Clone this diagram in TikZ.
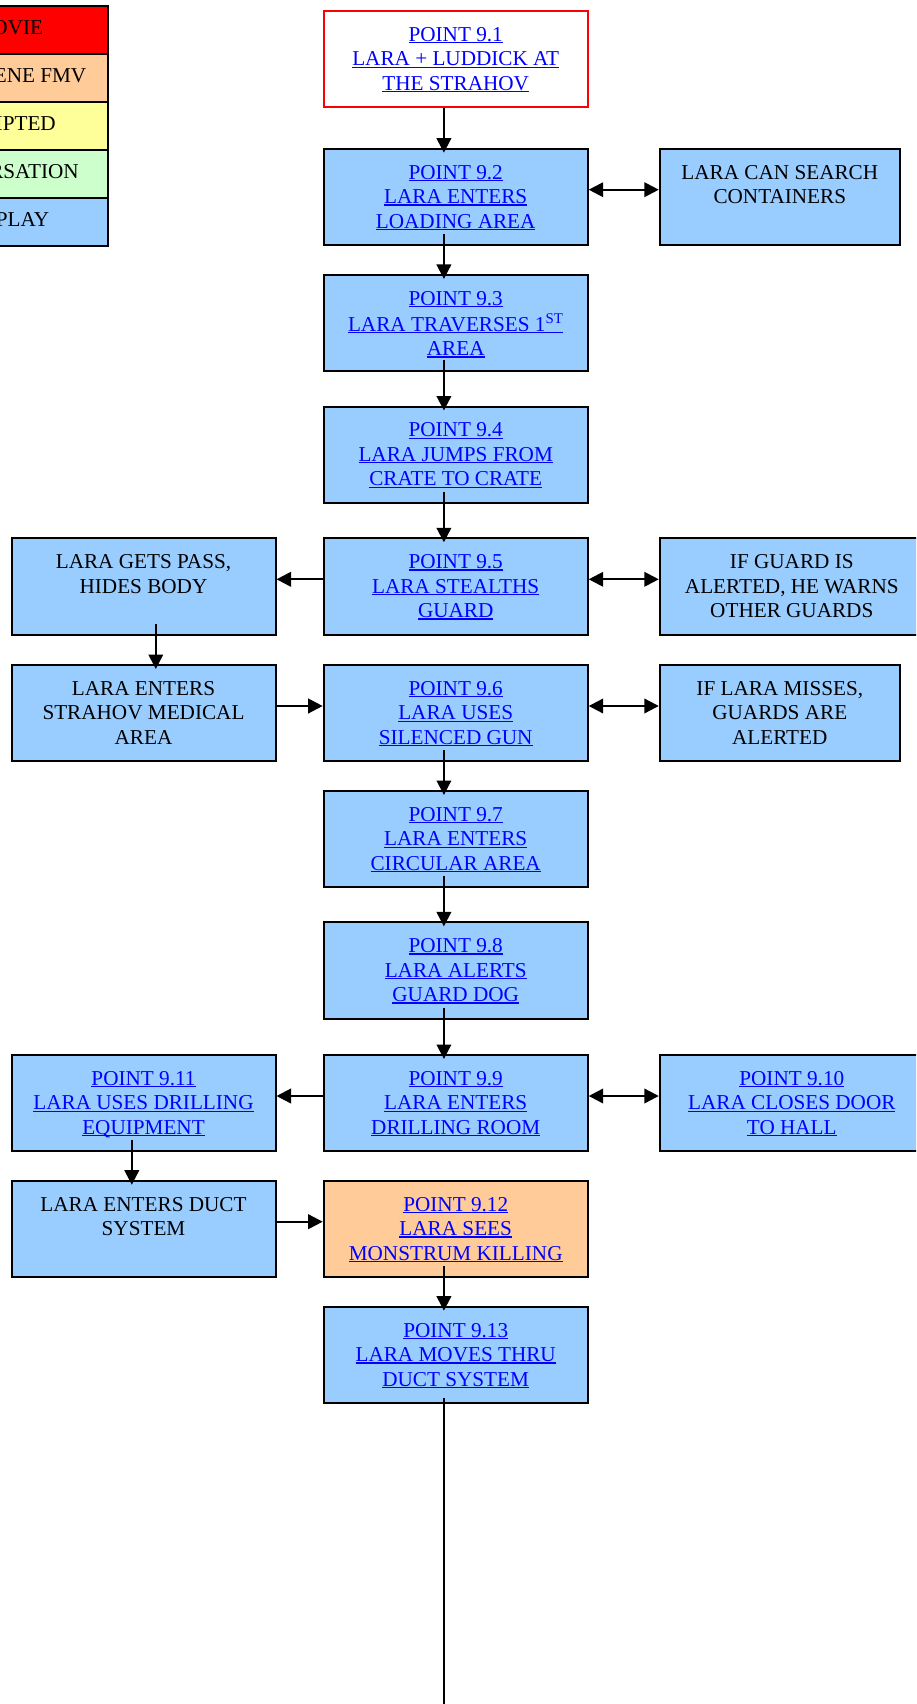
\documentclass[tikz,border=0pt]{standalone}
\usepackage{fontspec}
\setmainfont{Liberation Serif}
\usetikzlibrary{arrows.meta}
\definecolor{gpblue}{HTML}{99CCFF}
\definecolor{fmvpeach}{HTML}{FFCC99}
\definecolor{scriptyellow}{HTML}{FFFF99}
\definecolor{convgreen}{HTML}{CCFFCC}
\definecolor{movred}{HTML}{FF0000}
\definecolor{linkblue}{HTML}{0000FF}
\newcommand\boxfont{\fontsize{21.2}{24.5}\selectfont}
\newcommand\ulnk[1]{\setbox0=\hbox{#1}\rlap{\rule[-2pt]{\wd0}{1.3pt}}\box0}
\newcommand\lk[1]{{\color{linkblue}\ulnk{#1}}}
\begin{document}
\begin{tikzpicture}[x=1pt,y=-1pt,
  box/.style={draw=black,line width=2pt,fill=gpblue,minimum width=264pt,minimum height=96.4pt,inner sep=0pt,anchor=north west},
  rbox/.style={box,minimum width=240pt},
  txt/.style={anchor=north,inner sep=0pt,align=center,font=\boxfont,text=black},
  legrow/.style={draw=black,line width=2pt,minimum width=306.7pt,minimum height=48pt,inner sep=0pt,anchor=north west},
  legtxt/.style={anchor=base east,inner sep=0pt,font=\boxfont,text=black},
  arr/.style={line width=2.2pt,-{Triangle[length=14.5pt,width=14.5pt]}},
  darr/.style={line width=2.2pt,{Triangle[length=14.5pt,width=14.5pt]}-{Triangle[length=14.5pt,width=14.5pt]}},
  plain/.style={line width=2.2pt}
]
\useasboundingbox (0,0) rectangle (916,1704);
\clip (0,0) rectangle (916,1704);
\fill[white] (0,0) rectangle (916,1704);

% legend
\node[legrow,fill=movred] (lg1) at (-200,4.7) {};
\node[legrow,fill=fmvpeach] (lg2) at (-200,52.7) {};
\node[legrow,fill=scriptyellow] (lg3) at (-200,100.7) {};
\node[legrow,fill=convgreen] (lg4) at (-200,148.7) {};
\node[legrow,fill=gpblue] (lg5) at (-200,196.7) {};
\node[legtxt] (lg1t) at (43.3,34.2) {MOVIE};
\node[legtxt] (lg2t) at (86.5,82.2) {CUTSCENE FMV};
\node[legtxt] (lg3t) at (56,130.2) {SCRIPTED};
\node[legtxt] (lg4t) at (79,178.2) {CONVERSATION};
\node[legtxt] (lg5t) at (49.5,226.2) {GAMEPLAY};

% centre column
\node[box,fill=white,draw=movred] (p91) at (322.7,10) {};
\node[txt] (p91t) at ([yshift=-14pt]p91.north) {\strut\lk{POINT 9.1}\\\lk{LARA + LUDDICK AT}\\\lk{THE STRAHOV}};
\node[box] (p92) at (322.7,147.7) {};
\node[txt] (p92t) at ([yshift=-14pt]p92.north) {\strut\lk{POINT 9.2}\\\lk{LARA ENTERS}\\\lk{LOADING AREA}};
\node[box] (p93) at (322.7,274) {};
\node[txt] (p93t) at ([yshift=-14pt]p93.north) {\strut\lk{POINT 9.3}\\\lk{LARA TRAVERSES 1\textsuperscript{ST}}\\\lk{AREA}};
\node[box] (p94) at (322.7,405.5) {};
\node[txt] (p94t) at ([yshift=-14pt]p94.north) {\strut\lk{POINT 9.4}\\\lk{LARA JUMPS FROM}\\\lk{CRATE TO CRATE}};
\node[box] (p95) at (322.7,537.3) {};
\node[txt] (p95t) at ([yshift=-14pt]p95.north) {\strut\lk{POINT 9.5}\\\lk{LARA STEALTHS}\\\lk{GUARD}};
\node[box] (p96) at (322.7,664) {};
\node[txt] (p96t) at ([yshift=-14pt]p96.north) {\strut\lk{POINT 9.6}\\\lk{LARA USES}\\\lk{SILENCED GUN}};
\node[box] (p97) at (322.7,790) {};
\node[txt] (p97t) at ([yshift=-14pt]p97.north) {\strut\lk{POINT 9.7}\\\lk{LARA ENTERS}\\\lk{CIRCULAR AREA}};
\node[box] (p98) at (322.7,921.4) {};
\node[txt] (p98t) at ([yshift=-14pt]p98.north) {\strut\lk{POINT 9.8}\\\lk{LARA ALERTS}\\\lk{GUARD DOG}};
\node[box] (p99) at (322.7,1054) {};
\node[txt] (p99t) at ([yshift=-14pt]p99.north) {\strut\lk{POINT 9.9}\\\lk{LARA ENTERS}\\\lk{DRILLING ROOM}};
\node[box,fill=fmvpeach] (p912) at (322.7,1179.7) {};
\node[txt] (p912t) at ([yshift=-14pt]p912.north) {\strut\lk{POINT 9.12}\\\lk{LARA SEES}\\\lk{MONSTRUM KILLING}};
\node[box] (p913) at (322.7,1305.7) {};
\node[txt] (p913t) at ([yshift=-14pt]p913.north) {\strut\lk{POINT 9.13}\\\lk{LARA MOVES THRU}\\\lk{DUCT SYSTEM}};

% left column
\node[box] (l95) at (10.5,537.3) {};
\node[txt] (l95t) at ([yshift=-14pt]l95.north) {\strut LARA GETS PASS,\\HIDES BODY};
\node[box] (l96) at (10.5,664) {};
\node[txt] (l96t) at ([yshift=-14pt]l96.north) {\strut LARA ENTERS\\STRAHOV MEDICAL\\AREA};
\node[box] (l99) at (10.5,1054) {};
\node[txt] (l99t) at ([yshift=-14pt]l99.north) {\strut\lk{POINT 9.11}\\\lk{LARA USES DRILLING}\\\lk{EQUIPMENT}};
\node[box] (l912) at (10.5,1179.7) {};
\node[txt] (l912t) at ([yshift=-14pt]l912.north) {\strut LARA ENTERS DUCT\\SYSTEM};

% right column
\node[rbox] (r92) at (658.8,147.7) {};
\node[txt] (r92t) at ([yshift=-14pt]r92.north) {\strut LARA CAN SEARCH\\CONTAINERS};
\node[box] (r95) at (658.8,537.3) {};
\node[txt] (r95t) at ([yshift=-14pt]r95.north) {\strut IF GUARD IS\\ALERTED, HE WARNS\\OTHER GUARDS};
\node[rbox] (r96) at (658.8,664) {};
\node[txt] (r96t) at ([yshift=-14pt]r96.north) {\strut IF LARA MISSES,\\GUARDS ARE\\ALERTED};
\node[box] (r99) at (658.8,1054) {};
\node[txt] (r99t) at ([yshift=-14pt]r99.north) {\strut\lk{POINT 9.10}\\\lk{LARA CLOSES DOOR}\\\lk{TO HALL}};

% vertical connectors
\draw[arr] ([xshift=-11.8pt]p91.south) -- ([xshift=-11.8pt,yshift=-5pt]p92.north);
\draw[arr] ([xshift=-11.8pt,yshift=12pt]p92.south) -- ([xshift=-11.8pt,yshift=-5pt]p93.north);
\draw[arr] ([xshift=-11.8pt,yshift=12pt]p93.south) -- ([xshift=-11.8pt,yshift=-5pt]p94.north);
\draw[arr] ([xshift=-11.8pt,yshift=12pt]p94.south) -- ([xshift=-11.8pt,yshift=-5pt]p95.north);
\draw[arr] ([xshift=-11.8pt,yshift=12pt]p96.south) -- ([xshift=-11.8pt,yshift=-5pt]p97.north);
\draw[arr] ([xshift=-11.8pt,yshift=12pt]p97.south) -- ([xshift=-11.8pt,yshift=-5pt]p98.north);
\draw[arr] ([xshift=-11.8pt,yshift=12pt]p98.south) -- ([xshift=-11.8pt,yshift=-5pt]p99.north);
\draw[arr] ([xshift=-11.8pt,yshift=12pt]p912.south) -- ([xshift=-11.8pt,yshift=-5pt]p913.north);
\draw[arr] ([xshift=12.3pt,yshift=12pt]l95.south) -- ([xshift=12.3pt,yshift=-5pt]l96.north);
\draw[arr] ([xshift=-11.7pt,yshift=12pt]l99.south) -- ([xshift=-11.7pt,yshift=-5pt]l912.north);
\coordinate (pagebottom) at (0,1704);
\coordinate (tailstart) at ([xshift=-11.8pt,yshift=6pt]p913.south);
\coordinate (bottomend) at (tailstart |- pagebottom);
\draw[plain] (tailstart) -- (bottomend);

% horizontal connectors
\draw[darr] ([yshift=-42pt]p92.north east) -- ([yshift=-42pt]r92.north west);
\draw[arr] ([yshift=-42pt]p95.north west) -- ([yshift=-42pt]l95.north east);
\draw[darr] ([yshift=-42pt]p95.north east) -- ([yshift=-42pt]r95.north west);
\draw[arr] ([yshift=-42pt]l96.north east) -- ([yshift=-42pt]p96.north west);
\draw[darr] ([yshift=-42pt]p96.north east) -- ([yshift=-42pt]r96.north west);
\draw[arr] ([yshift=-42pt]p99.north west) -- ([yshift=-42pt]l99.north east);
\draw[darr] ([yshift=-42pt]p99.north east) -- ([yshift=-42pt]r99.north west);
\draw[arr] ([yshift=-42pt]l912.north east) -- ([yshift=-42pt]p912.north west);
\end{tikzpicture}
\end{document}
